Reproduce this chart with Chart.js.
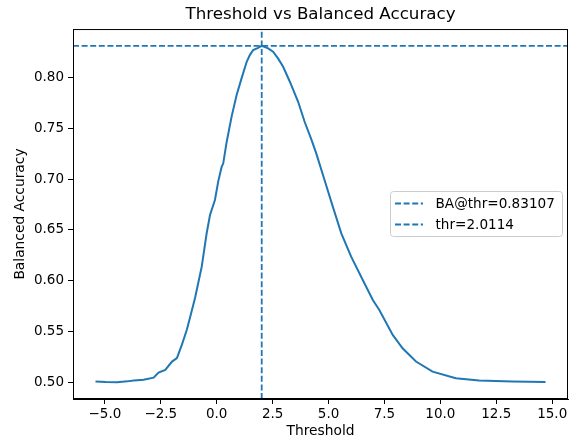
<!DOCTYPE html>
<html lang="en">
<head>
    <meta charset="UTF-8">
    <title>Threshold vs Balanced Accuracy</title>
    <script src="https://cdn.jsdelivr.net/npm/chart.js"></script>
    <style>
        html, body { margin: 0; padding: 0; background: #fff; }
        #wrap { width: 577px; height: 444px; }
    </style>
</head>
<body>
    <div id="wrap"><canvas id="baChart"></canvas></div>
    <script>
        // values
        const thresholds = [
            -5.42, -4.95, -4.45, -4.0, -3.71, -3.27, -2.82, -2.60, -2.30, -2.00,
            -1.78, -1.56, -1.34, -1.19, -0.97, -0.67, -0.45, -0.30, -0.08, 0.07,
            0.22, 0.29, 0.44, 0.67, 0.89, 1.11, 1.34, 1.48, 1.63, 1.85,
            2.01, 2.30, 2.52, 2.74, 2.97, 3.27, 3.64, 3.93, 4.23, 4.45,
            4.82, 5.19, 5.57, 6.01, 6.53, 6.98, 7.27, 7.87, 8.31, 8.91,
            9.65, 10.69, 11.73, 13.21, 14.70
        ];
        const balancedAcc = [
            0.5008, 0.5003, 0.5002, 0.5010, 0.5018, 0.5025, 0.5047, 0.5096, 0.5123, 0.5205,
            0.5238, 0.5369, 0.5516, 0.5640, 0.5830, 0.6139, 0.6467, 0.6647, 0.6794, 0.6980,
            0.7120, 0.7153, 0.7360, 0.7620, 0.7827, 0.7991, 0.8154, 0.8220, 0.8270, 0.8292,
            0.8311, 0.8286, 0.8253, 0.8188, 0.8105, 0.7958, 0.7761, 0.7564, 0.7390, 0.7253,
            0.6991, 0.6729, 0.6467, 0.6237, 0.6008, 0.5811, 0.5713, 0.5467, 0.5336, 0.5205,
            0.5106, 0.5041, 0.5018, 0.5008, 0.5005
        ];
        const bestThr = 2.0114;
        const bestBA = 0.83107;
        const xTickValues = [-5, -2.5, 0, 2.5, 5, 7.5, 10, 12.5, 15];
        const yTickValues = [0.50, 0.55, 0.60, 0.65, 0.70, 0.75, 0.80];
        const legendLabels = ['BA@thr=0.83107', 'thr=2.0114'];

        const blue = '#1f77b4';
        const font = 'DejaVu Sans';

        // matplotlib-like 5% margins
        const xLo = Math.min(...thresholds), xHi = Math.max(...thresholds);
        const yLo = Math.min(...balancedAcc), yHi = Math.max(...balancedAcc, bestBA);
        const xMin = xLo - 0.05 * (xHi - xLo), xMax = xHi + 0.05 * (xHi - xLo);
        const yMin = yLo - 0.05 * (yHi - yLo), yMax = yHi + 0.05 * (yHi - yLo);

        const fmtMinus = (s) => s.replace('-', '\u2212');

        // box around the axes + legend like matplotlib
        const framePlugin = {
            id: 'frame',
            afterDraw(chart) {
                const { ctx, chartArea: a } = chart;
                ctx.save();
                ctx.strokeStyle = '#000';
                ctx.lineWidth = 1;
                ctx.strokeRect(a.left + 0.5, a.top + 0.5, a.right - a.left - 1, a.bottom - a.top - 1);

                // legend
                const bx = 390, by = 191.5, bw = 172, bh = 45;
                ctx.fillStyle = 'rgba(255,255,255,0.8)';
                ctx.strokeStyle = '#cccccc';
                ctx.beginPath();
                ctx.roundRect(bx + 0.5, by, bw, bh, 3);
                ctx.fill();
                ctx.stroke();
                ctx.font = '13.6px "' + font + '"';
                ctx.textBaseline = 'middle';
                legendLabels.forEach((t, i) => {
                    const yy = by + 12 + i * 21;
                    ctx.strokeStyle = blue;
                    ctx.lineWidth = 1.8;
                    ctx.setLineDash([6, 2.6]);
                    ctx.beginPath();
                    ctx.moveTo(bx + 5, yy);
                    ctx.lineTo(bx + 33, yy);
                    ctx.stroke();
                    ctx.setLineDash([]);
                    ctx.fillStyle = '#000';
                    ctx.fillText(t, bx + 45.5, yy + 1);
                });
                ctx.restore();
            }
        };

        const ctx = document.getElementById('baChart').getContext('2d');
        new Chart(ctx, {
            type: 'line',
            data: {
                datasets: [
                    {
                        label: 'balanced accuracy',
                        data: thresholds.map((t, i) => ({ x: t, y: balancedAcc[i] })),
                        borderColor: blue,
                        borderWidth: 2,
                        pointRadius: 0,
                        tension: 0
                    },
                    {
                        label: legendLabels[0],
                        data: [{ x: xMin, y: bestBA }, { x: xMax, y: bestBA }],
                        borderColor: blue,
                        borderWidth: 1.8,
                        borderDash: [6, 2.6],
                        pointRadius: 0
                    },
                    {
                        label: legendLabels[1],
                        data: [{ x: bestThr, y: yMin }, { x: bestThr, y: yMax }],
                        borderColor: blue,
                        borderWidth: 1.8,
                        borderDash: [6, 2.6],
                        pointRadius: 0
                    }
                ]
            },
            options: {
                responsive: true,
                maintainAspectRatio: false,
                animation: false,
                layout: { padding: { top: 0, right: 9, left: 0, bottom: 0 } },
                plugins: {
                    legend: { display: false },
                    tooltip: { enabled: false },
                    title: {
                        display: true,
                        fullSize: false,
                        text: 'Threshold vs Balanced Accuracy',
                        color: '#000',
                        font: { family: font, size: 16.7, weight: 'normal' },
                        padding: { top: 5, bottom: 4 }
                    }
                },
                scales: {
                    x: {
                        type: 'linear',
                        min: xMin,
                        max: xMax,
                        afterBuildTicks: (s) => { s.ticks = xTickValues.map(v => ({ value: v })); },
                        afterFit: (s) => { s.height = 45; },
                        ticks: {
                            color: '#000',
                            font: { family: font, size: 13.5 },
                            padding: 2,
                            maxRotation: 0,
                            autoSkip: false,
                            callback: (v) => fmtMinus(v.toFixed(1))
                        },
                        grid: { drawOnChartArea: false, drawTicks: true, tickLength: 5, color: '#000' },
                        border: { color: '#000' },
                        title: {
                            display: true,
                            text: 'Threshold',
                            color: '#000',
                            font: { family: font, size: 13.8 },
                            padding: { top: 0 }
                        }
                    },
                    y: {
                        type: 'linear',
                        min: yMin,
                        max: yMax,
                        afterBuildTicks: (s) => { s.ticks = yTickValues.map(v => ({ value: v })); },
                        afterFit: (s) => { s.width = 73; },
                        ticks: {
                            color: '#000',
                            font: { family: font, size: 13.5 },
                            padding: 4,
                            autoSkip: false,
                            callback: (v) => v.toFixed(2)
                        },
                        grid: { drawOnChartArea: false, drawTicks: true, tickLength: 5, color: '#000' },
                        border: { color: '#000' },
                        title: {
                            display: true,
                            text: 'Balanced Accuracy',
                            color: '#000',
                            font: { family: font, size: 13.8 },
                            padding: { top: 12, bottom: 0 }
                        }
                    }
                }
            },
            plugins: [framePlugin]
        });
    </script>
</body>
</html>
